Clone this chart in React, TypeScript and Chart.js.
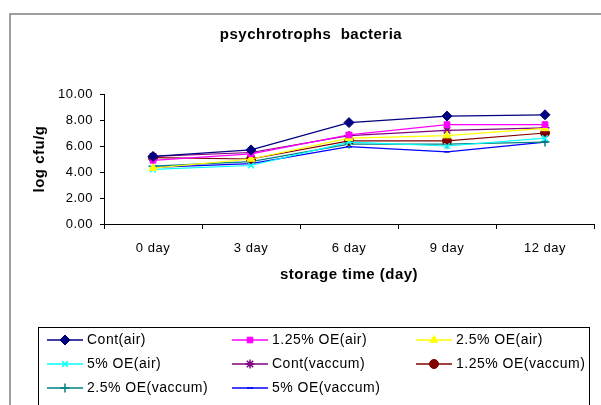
import React, { useEffect, useRef } from "react";
import { Chart, registerables } from "chart.js";
import { drawPoint } from "chart.js/helpers";

Chart.register(...registerables);

const chartTitle = "psychrotrophs  bacteria";
const categories = ["0 day", "3 day", "6 day", "9 day", "12 day"];
const seriesNames = [
  "Cont(air)",
  "1.25% OE(air)",
  "2.5% OE(air)",
  "5% OE(air)",
  "Cont(vaccum)",
  "1.25% OE(vaccum)",
  "2.5% OE(vaccum)",
  "5% OE(vaccum)",
];
const contAir = [5.2, 5.7, 7.8, 8.3, 8.4];
const oe125Air = [4.9, 5.4, 6.85, 7.65, 7.65];
const oe25Air = [4.3, 5.0, 6.6, 6.8, 7.35];
const oe5Air = [4.2, 4.5, 6.3, 6.0, 6.6];
const contVac = [5.2, 5.5, 6.8, 7.2, 7.4];
const oe125Vac = [5.1, 5.0, 6.4, 6.4, 7.0];
const oe25Vac = [4.45, 4.8, 6.15, 6.15, 6.3];
const oe5Vac = [4.35, 4.65, 5.95, 5.55, 6.3];
const seriesValues = [contAir, oe125Air, oe25Air, oe5Air, contVac, oe125Vac, oe25Vac, oe5Vac];

const colors = ["#000080", "#FF00FF", "#FFFF00", "#00FFFF", "#800080", "#800000", "#008080", "#0000FF"];
const pointStyles = ["rectRot", "rect", "triangle", "crossRot", "star", "circle", "cross", "line"];
const pointRadii = [5, 4, 4.5, 4, 4.5, 4.5, 4.5, 3];

const FONT = "'Liberation Sans', Arial, sans-serif";

const decorPlugin = {
  id: "decor",
  beforeDraw(chart: any) {
    chart.ctx.letterSpacing = "0.5px";
  },
  afterDraw(chart: any) {
    const ctx = chart.ctx;
    ctx.save();
    ctx.strokeStyle = "#7f7f7f";
    ctx.lineWidth = 1.5;
    ctx.strokeRect(10, 14, 640, 450);
    // title
    ctx.fillStyle = "#000";
    ctx.font = "bold 15px " + FONT;
    ctx.letterSpacing = "0.5px";
    ctx.textAlign = "center";
    ctx.textBaseline = "middle";
    ctx.fillText(chartTitle, 311, 35);
    // legend
    ctx.strokeStyle = "#000";
    ctx.lineWidth = 1;
    ctx.strokeRect(38.5, 327.5, 551, 120);
    const colX = [47, 232, 416];
    const rowY = [340, 364, 388];
    chart.data.datasets.forEach((ds: any, i: number) => {
      const c = i % 3;
      const r = Math.floor(i / 3);
      const x0 = colX[c];
      const y = rowY[r];
      ctx.strokeStyle = ds.borderColor;
      ctx.lineWidth = 1.5;
      ctx.beginPath();
      ctx.moveTo(x0, y);
      ctx.lineTo(x0 + 36, y);
      ctx.stroke();
      ctx.fillStyle = ds.pointBackgroundColor;
      ctx.strokeStyle = ds.pointBorderColor;
      ctx.lineWidth = ds.pointBorderWidth;
      drawPoint(ctx, { pointStyle: ds.pointStyle, radius: ds.pointRadius, borderWidth: ds.pointBorderWidth, rotation: 0 } as any, x0 + 18, y);
      ctx.fillStyle = "#000";
      ctx.font = "14px " + FONT;
      ctx.letterSpacing = "0.5px";
      ctx.textBaseline = "middle";
      ctx.textAlign = "left";
      ctx.fillText(ds.label, x0 + 40, y);
    });
    ctx.restore();
  },
};

export default function App() {
  const ref = useRef<HTMLCanvasElement | null>(null);
  useEffect(() => {
    if (!ref.current) return;
    const chart = new Chart(ref.current, {
      type: "line",
      data: {
        labels: categories,
        datasets: seriesNames.map((name, i) => ({
          label: name,
          data: seriesValues[i],
          borderColor: colors[i],
          backgroundColor: colors[i],
          pointBackgroundColor: colors[i],
          pointBorderColor: colors[i],
          pointStyle: pointStyles[i] as any,
          pointRadius: pointRadii[i],
          pointBorderWidth: i === 3 || i === 4 || i === 6 || i === 7 ? 1.5 : 1,
          borderWidth: 1.2,
          tension: 0,
          fill: false,
        })),
      },
      options: {
        responsive: false,
        animation: false,
        devicePixelRatio: 1,
        layout: { padding: { left: 10, right: 7, top: 94, bottom: 121 } },
        plugins: {
          legend: { display: false },
          tooltip: { enabled: false },
          title: { display: false },
        },
        scales: {
          x: {
            offset: true,
            grid: { offset: true, drawOnChartArea: false, color: "#000", tickLength: 5 },
            border: { color: "#000", width: 1 },
            ticks: { color: "#000", font: { family: FONT, size: 13 }, padding: 12 },
            title: {
              display: true,
              text: "storage time (day)",
              color: "#000",
              font: { family: FONT, size: 15, weight: "bold" },
              padding: { top: 13, bottom: 0 },
            },
            afterFit: (s: any) => { s.height = 60; },
          },
          y: {
            min: 0,
            max: 10,
            ticks: {
              stepSize: 2,
              color: "#000",
              font: { family: FONT, size: 13 },
              padding: 7,
              callback: (v: any) => Number(v).toFixed(2),
            },
            grid: { drawOnChartArea: false, color: "#000", tickLength: 4 },
            border: { color: "#000", width: 1 },
            title: {
              display: true,
              text: "log cfu/g",
              color: "#000",
              font: { family: FONT, size: 15, weight: "bold" },
              padding: { top: 21, bottom: 0 },
            },
            afterFit: (s: any) => { s.width = 94; },
          },
        },
      },
      plugins: [decorPlugin],
    });
    return () => chart.destroy();
  }, []);
  return (
    <div style={{ position: "fixed", left: 0, top: 0, width: 601, height: 405, background: "#fff" }}>
      <canvas ref={ref} width={601} height={405} />
    </div>
  );
}
